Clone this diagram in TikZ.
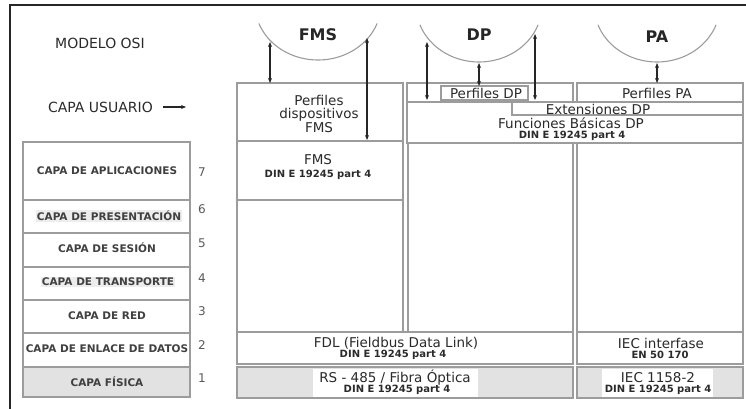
\documentclass[tikz,border=0pt]{standalone}
\usepackage{fontspec}
\setmainfont{DejaVu Sans}
\usetikzlibrary{arrows.meta}
\definecolor{boxgray}{HTML}{9C9C9C}
\definecolor{fillgray}{HTML}{E2E2E2}
\definecolor{txt}{HTML}{2A2A2A}
\begin{document}
\begin{tikzpicture}[x=1pt,y=-1pt,
  box/.style={draw=boxgray,line width=1.6pt},
  pbox/.style={box,fill=fillgray},
  lbl/.style={inner sep=0pt,text=txt,font=\fontsize{13.5}{12.5}\selectfont,align=center},
  din/.style={inner sep=0pt,text=txt,font=\bfseries\fontsize{10}{11}\selectfont},
  osilayer/.style={inner sep=0.6pt,text=black!75,font=\bfseries\fontsize{10.5}{12}\selectfont},
  num/.style={inner sep=0pt,text=black!65,font=\fontsize{12}{12}\selectfont},
  ttl/.style={inner sep=0pt,text=black!85,font=\bfseries\fontsize{16}{16}\selectfont},
  side/.style={inner sep=0pt,text=txt,font=\fontsize{14}{14}\selectfont},
  cloud/.style={draw=boxgray,line width=1.1pt},
  link/.style={{Stealth[length=5pt,width=4pt]}-{Stealth[length=5pt,width=4pt]},line width=1.2pt,draw=black!85}
]
\useasboundingbox (0,0) rectangle (746,409);
% frame
\draw[line width=2.5pt,draw=black!85] (10,409) -- (10,5) -- (746,5);

% left labels
\node[side] (osi) at (100,43) {MODELO OSI};
\node[side,anchor=east] (usr) at (153,107) {CAPA USUARIO};
\coordinate (usrA) at (163,107);
\coordinate (usrB) at (186,107);
\draw[-{Stealth[length=5pt,width=4pt]},line width=1.2pt,draw=black!85] (usrA) -- (usrB);

% OSI stack
\draw[box] (23,142) rectangle (190,200);
\draw[box] (23,200) rectangle (190,233);
\draw[box] (23,233) rectangle (190,267);
\draw[box] (23,267) rectangle (190,300);
\draw[box] (23,300) rectangle (190,333);
\draw[box] (23,333) rectangle (190,367);
\draw[pbox] (23,367) rectangle (190,397);
\node[osilayer] (l7) at (107,171) {CAPA DE APLICACIONES};
\node[osilayer,fill=black!7] (l6) at (109,216) {CAPA DE PRESENTACIÓN};
\node[osilayer] (l5) at (107,248) {CAPA DE SESIÓN};
\node[osilayer,fill=black!7] (l4) at (108,282) {CAPA DE TRANSPORTE};
\node[osilayer] (l3) at (107,316) {CAPA DE RED};
\node[osilayer] (l2) at (107,349) {CAPA DE ENLACE DE DATOS};
\node[osilayer] (l1) at (107,382) {CAPA FÍSICA};
\node[num] (n7) at (202,172) {7};
\node[num] (n6) at (202,209) {6};
\node[num] (n5) at (202,243) {5};
\node[num] (n4) at (202,278) {4};
\node[num] (n3) at (202,311) {3};
\node[num] (n2) at (202,345) {2};
\node[num] (n1) at (202,378) {1};

% profile clouds
\draw[cloud] plot[domain=20.4:159.6,samples=60] ({318+63*cos(\x)},{4+56*sin(\x)});
\draw[cloud] plot[domain=20.4:159.6,samples=60] ({479+63*cos(\x)},{5+57*sin(\x)});
\draw[cloud] plot[domain=20.4:159.6,samples=60] ({657+63*cos(\x)},{5+57*sin(\x)});
\node[ttl] (tFMS) at (318,35) {FMS};
\node[ttl] (tDP) at (479,35) {DP};
\node[ttl] (tPA) at (657,37) {PA};

% FMS column
\draw[box] (237,83) rectangle (403,141);
\draw[box] (237,141) rectangle (403,200);
\draw[box] (237,200) rectangle (403,332);
\node[lbl] (pfms) at (319,114) {Perfiles\\dispositivos\\FMS};
\node[lbl] (fms) at (318,160) {FMS};
\node[din] (fmsdin) at (318,175) {DIN E 19245 part 4};

% DP / PA columns
\draw[box] (407,83) rectangle (573,102);
\draw[box] (577,83) rectangle (743,102);
\draw[box] (407,102) rectangle (743,143);
\draw[box] (512,102) rectangle (743,115);
\draw[box] (441,86) rectangle (528,100);
\draw[box] (408,143) rectangle (573,332);
\draw[box] (577,143) rectangle (743,332);
\node[lbl] (pdp) at (486,93) {Perfiles DP};
\node[lbl] (ppa) at (657,93) {Perfiles PA};
\node[lbl] (ext) at (598,109) {Extensiones DP};
\node[lbl] (fun) at (571,123) {Funciones Básicas DP};
\node[din] (fundin) at (572,136) {DIN E 19245 part 4};

% lower layers
\draw[box] (237,332) rectangle (573,364);
\draw[box] (577,332) rectangle (743,364);
\draw[pbox] (237,367) rectangle (573,398);
\draw[pbox] (577,367) rectangle (743,398);
\fill[white] (313,368.5) rectangle (478,396.5);
\fill[white] (602,368.5) rectangle (713,396.5);
\node[lbl] (fdl) at (396,343) {FDL (Fieldbus Data Link)};
\node[din] (fdldin) at (393,355) {DIN E 19245 part 4};
\node[lbl] (iec) at (661,343) {IEC interfase};
\node[din] (en) at (660,355) {EN 50 170};
\node[lbl] (rs) at (395,378) {RS - 485 / Fibra Óptica};
\node[din] (rsdin) at (397,390) {DIN E 19245 part 4};
\node[lbl] (iec2) at (658,378) {IEC 1158-2};
\node[din] (iec2din) at (658,390) {DIN E 19245 part 4};

% arrows
\coordinate (fa1) at (270,42);
\coordinate (fa2) at (270,83);
\coordinate (fb1) at (367,38);
\coordinate (fb2) at (367,140);
\coordinate (da1) at (427,42);
\coordinate (da2) at (427,100);
\coordinate (db1) at (479,63);
\coordinate (db2) at (479,86);
\coordinate (dc1) at (535,34);
\coordinate (dc2) at (535,100);
\coordinate (pa1) at (657,63);
\coordinate (pa2) at (657,83);
\draw[link] (fa1) -- (fa2);
\draw[link] (fb1) -- (fb2);
\draw[link] (da1) -- (da2);
\draw[link] (db1) -- (db2);
\draw[link] (dc1) -- (dc2);
\draw[link] (pa1) -- (pa2);
\end{tikzpicture}
\end{document}
